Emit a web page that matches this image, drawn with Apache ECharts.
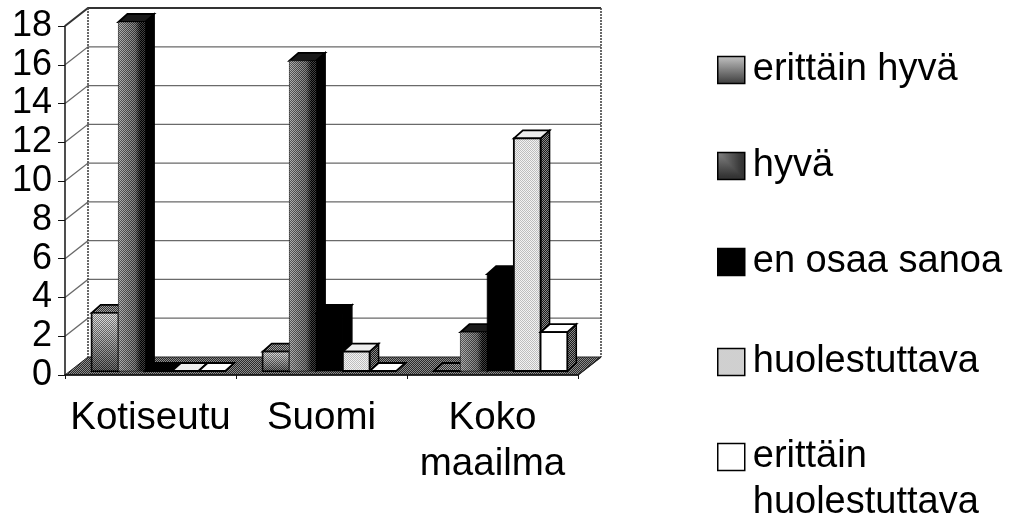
<!DOCTYPE html>
<html><head><meta charset="utf-8">
<style>html,body{margin:0;padding:0;background:#fff}#c{width:1009px;height:513px}</style>
<script src="https://cdn.jsdelivr.net/npm/echarts@6/dist/echarts.min.js"></script></head>
<body><div id="c"></div>
<script>
const categories = ['Kotiseutu', 'Suomi', 'Koko\nmaailma'];
const seriesNames = ['erittäin hyvä', 'hyvä', 'en osaa sanoa', 'huolestuttava', 'erittäin huolestuttava'];
const erittainHyva = [3, 1, 0];
const hyva = [18, 16, 2];
const enOsaaSanoa = [0, 3, 5];
const huolestuttava = [0, 1, 12];
const erittainHuolestuttava = [0, 0, 2];
const gridValues = [0, 2, 4, 6, 8, 10, 12, 14, 16, 18];
const seriesValues = [erittainHyva, hyva, enOsaaSanoa, huolestuttava, erittainHuolestuttava];

function dither(a, b) {
  const c = document.createElement('canvas'); c.width = c.height = 4;
  const g = c.getContext('2d');
  for (let y = 0; y < 4; y++) for (let x = 0; x < 4; x++) {
    g.fillStyle = (x + y) % 2 ? a : b; g.fillRect(x, y, 1, 1);
  }
  return { image: c, repeat: 'repeat' };
}
// Legend swatch texture: a dithered shade, aligned to the swatch's own origin.
function swatch(size, shade) {
  const c = document.createElement('canvas'); c.width = c.height = size;
  const g = c.getContext('2d');
  for (let y = 0; y < size; y++) for (let x = 0; x < size; x++) {
    const v = Math.max(0, Math.min(255, shade(x / size, y / size) + ((x + y) % 2 ? 55 : -55)));
    g.fillStyle = 'rgb(' + v + ',' + v + ',' + v + ')'; g.fillRect(x, y, 1, 1);
  }
  return { image: c, repeat: 'repeat' };
}
const vgrad = (a, b) => ({ type: 'linear', x: 0, y: 0, x2: 0, y2: 1, colorStops: [{ offset: 0, color: a }, { offset: 1, color: b }] });
const hstops = stops => ({ type: 'linear', x: 0, y: 0, x2: 1, y2: 0, colorStops: stops });
const checker = dither('rgba(0,0,0,0.42)', 'rgba(255,255,255,0.25)');
const lightStipple = dither('#f2f2f2', '#bdbdbd');
const sideStipple = dither('#1a1a1a', '#8a8a8a');
const topStipple = dither('#333333', '#a0a0a0');
const floorFill = dither('#2a2a2a', '#8c8c8c');

const faces = [
  { front: vgrad('#e2e2e2', '#3c3c3c'), over: checker, top: topStipple, side: '#111111' },
  { front: hstops([{ offset: 0, color: '#9a9a9a' }, { offset: 0.62, color: '#5a5a5a' }, { offset: 0.82, color: '#000000' }, { offset: 1, color: '#000000' }]), over: checker, top: '#1a1a1a', side: '#000000' },
  { front: '#000000', over: null, top: '#000000', side: '#000000' },
  { front: lightStipple, over: null, top: '#eeeeee', side: sideStipple },
  { front: '#ffffff', over: null, top: '#ffffff', side: sideStipple }
];
const WALL_DX = 23, WALL_DY = 18, BAR_DX = 8, BAR_DY = 4, DEPTH_X = 9, DEPTH_Y = 8;
const poly = (pts, fill, stroke, lw) => ({ type: 'polygon', shape: { points: pts },
  style: { fill: fill, stroke: stroke || null, lineWidth: lw || 0 } });

function barRenderer(si) {
  return function (params, api) {
    const catW = api.size([1, 0])[0];
    const w = catW / 6.4;
    const gap = (catW - w * 5) / 2;
    const c = api.coord([api.value(0), api.value(1)]);
    const base = api.coord([api.value(0), 0]);
    const x0 = c[0] - catW / 2 + BAR_DX + gap + si * w;
    const x1 = x0 + w;
    const yT = c[1] - BAR_DY, yB = base[1] - BAR_DY;
    const f = faces[si], ch = [];
    const front = [[x0, yT], [x1, yT], [x1, yB], [x0, yB]];
    const side = [[x1, yT], [x1 + DEPTH_X, yT - DEPTH_Y], [x1 + DEPTH_X, yB - DEPTH_Y], [x1, yB]];
    const top = [[x0, yT], [x0 + DEPTH_X, yT - DEPTH_Y], [x1 + DEPTH_X, yT - DEPTH_Y], [x1, yT]];
    ch.push(poly(side, f.side, '#000', 1.5));
    ch.push(poly(top, f.top, '#000', 1.8));
    if (yB > yT) {
      ch.push(poly(front, f.front, '#000', si === 1 || si === 2 ? 0.6 : 1.8));
      if (f.over) ch.push(poly(front, f.over));
    }
    return { type: 'group', children: ch };
  };
}

function wallRenderer(params, api) {
  const r = params.coordSys, ch = [];
  const y = api.coord([0, api.value(1)])[1];
  const L = r.x, R = r.x + r.width;
  if (api.value(1) === 0) {
    ch.push(poly([[L, y], [L + WALL_DX, y - WALL_DY], [R + WALL_DX, y - WALL_DY], [R, y]], floorFill, '#222', 1));
  } else {
    ch.push({ type: 'polyline', shape: { points: [[L, y], [L + WALL_DX, y - WALL_DY], [R + WALL_DX, y - WALL_DY]] },
      style: { fill: null, stroke: api.value(1) === 18 ? '#333' : '#6a6a6a', lineWidth: api.value(1) === 18 ? 2 : 1.3 } });
  }
  return { type: 'group', children: ch };
}
function wallEdgeRenderer(params, api) {
  const r = params.coordSys;
  const yTop = api.coord([0, 18])[1] - WALL_DY, yBot = api.coord([0, 0])[1] - WALL_DY;
  const ln = (x, a, b) => ({ type: 'line', shape: { x1: x, y1: a, x2: x, y2: b }, style: { stroke: '#444', lineWidth: 1.6, lineDash: [2, 1] } });
  return { type: 'group', children: [
    ln(r.x + WALL_DX, yTop, yBot), ln(r.x + r.width + WALL_DX, yTop, yBot),
    { type: 'line', shape: { x1: r.x + r.width, y1: yBot + WALL_DY, x2: r.x + r.width + WALL_DX, y2: yBot }, style: { stroke: '#222', lineWidth: 1.2 } }
  ] };
}

const font = '"Liberation Sans", Arial, sans-serif';
const ICON = 27;
const legendFills = [
  swatch(ICON, (x, y) => 190 - 130 * y),
  swatch(ICON, (x, y) => 130 - 90 * Math.max(x, y)),
  '#000000',
  swatch(ICON, () => 215),
  '#ffffff'
];
const seriesColors = ['#888888', '#555555', '#000000', '#dddddd', '#ffffff'];
const legendCentres = [70, 166, 262, 362, 457];

const series = [
  { type: 'custom', name: 'wall', silent: true, z: 1, renderItem: wallRenderer, encode: { x: 0, y: 1 },
    data: gridValues.map(v => [0, v]) },
  { type: 'custom', name: 'wallEdges', silent: true, z: 1, renderItem: wallEdgeRenderer, encode: { x: 0, y: 1 },
    data: [[0, 0]] }
].concat(seriesNames.map((n, si) => ({
  type: 'custom', name: n, z: 2 + si, renderItem: barRenderer(si), encode: { x: 0, y: 1 },
  itemStyle: { color: seriesColors[si] },
  data: seriesValues[si].map((v, i) => [i, v])
})));

const chart = echarts.init(document.getElementById('c'), null, { renderer: 'canvas' });
chart.setOption({
  animation: false,
  backgroundColor: '#ffffff',
  textStyle: { fontFamily: font },
  grid: { left: 65, top: 26, width: 513, height: 349, containLabel: false },
  legend: seriesNames.map((n, i) => ({
    data: [{ name: n, icon: 'rect', itemStyle: { color: legendFills[i], borderColor: '#000', borderWidth: 1.5 } }],
    left: 712, top: legendCentres[i] - (i === 4 ? 74 : 28),
    orient: 'vertical', selectedMode: false, itemWidth: ICON, itemHeight: ICON,
    formatter: nm => i === 4 ? '\nerittäin\nhuolestuttava' : nm,
    textStyle: { fontFamily: font, fontSize: 38, color: '#000', lineHeight: 46, padding: [0, 0, 0, 3] }
  })),
  xAxis: {
    type: 'category', data: categories, boundaryGap: true, z: 20,
    axisLine: { show: true, lineStyle: { color: '#111', width: 1.6 } },
    axisTick: { show: true, length: 4, lineStyle: { color: '#111' } },
    axisLabel: { color: '#000', fontFamily: font, fontSize: 38.5, margin: 20, lineHeight: 46, interval: 0 },
    splitLine: { show: false }
  },
  yAxis: {
    type: 'value', min: 0, max: 18, interval: 2, z: 20,
    axisLine: { show: true, lineStyle: { color: '#222', width: 1.6 } },
    axisTick: { show: true, length: 7, lineStyle: { color: '#111' } },
    axisLabel: { color: '#000', fontFamily: font, fontSize: 36, margin: 13 },
    splitLine: { show: false }
  },
  series: series
});
</script></body></html>
